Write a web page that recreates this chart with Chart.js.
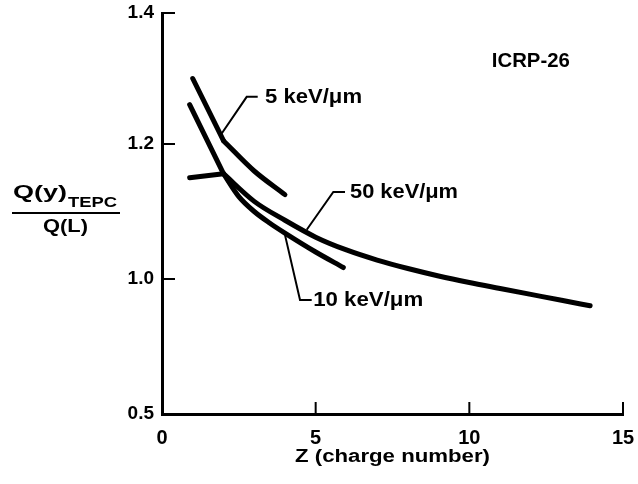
<!DOCTYPE html>
<html>
<head>
<meta charset="utf-8">
<script src="https://cdn.jsdelivr.net/npm/chart.js@4.4.1/dist/chart.umd.min.js"></script>
<style>
  html, body { margin: 0; padding: 0; background: #fff; }
</style>
</head>
<body>
<canvas id="graph" width="638" height="484"></canvas>
<script>
// values (Q(y)TEPC / Q(L) against Z)
const keV5Z = [1, 2, 3, 4];
const keV5Q = [1.30, 1.205, 1.16, 1.125];
const keV10Z = [0.9, 2, 2.5, 3, 3.5, 4, 5, 5.9];
const keV10Q = [1.26, 1.156, 1.122, 1.10, 1.083, 1.068, 1.04, 1.017];
const keV50Z = [0.9, 2, 3, 4, 5, 6, 7, 8, 9, 10, 11, 12, 13, 13.93];
const keV50Q = [1.15, 1.156, 1.115, 1.087, 1.062, 1.043, 1.028, 1.0155, 1.0045, 0.987, 0.965, 0.943, 0.921, 0.901];
const xTicks = [0, 5, 10, 15];
const yTicks = [0.5, 1.0, 1.2, 1.4];

// curve labels with their leader lines (data coordinates)
const leaderText = ['5 keV/μm', '50 keV/μm', '10 keV/μm'];
const leaderTipZ = [1.943, 4.709, 4.003];
const leaderTipQ = [1.216, 1.073, 1.065];
const leaderElbowZ = [2.756, 5.574, 4.491];
const leaderElbowQ = [1.272, 1.129, 0.922];
const leaderEndZ = [3.114, 5.955, 4.871];
const leaderLabelZ = [3.352, 6.118, 4.92];

// the y axis of the original is not uniform: 0.5 -> 1.0 takes the same room as 1.0 -> 1.2
const Y_FRACS = [0, 0.3367, 0.6733, 1];

class BrokenScale extends Chart.LinearScale {
  static id = 'broken';
  toDecimal(v) {
    for (let i = 1; i < yTicks.length; i++) {
      if (v <= yTicks[i] || i === yTicks.length - 1) {
        const a = yTicks[i - 1], b = yTicks[i];
        return Y_FRACS[i - 1] + (v - a) / (b - a) * (Y_FRACS[i] - Y_FRACS[i - 1]);
      }
    }
  }
  getPixelForValue(v) {
    return this.getPixelForDecimal(this.toDecimal(v));
  }
  getValueForPixel(p) {
    const d = this.getDecimalForPixel(p);
    for (let i = 1; i < Y_FRACS.length; i++) {
      if (d <= Y_FRACS[i] || i === Y_FRACS.length - 1) {
        const a = Y_FRACS[i - 1], b = Y_FRACS[i];
        return yTicks[i - 1] + (d - a) / (b - a) * (yTicks[i] - yTicks[i - 1]);
      }
    }
  }
}
Chart.register(BrokenScale);

const FONT = '"Liberation Sans", Arial, Helvetica, sans-serif';

function toPoints(zs, qs) {
  return zs.map((z, i) => ({ x: z, y: qs[i] }));
}

function fitText(ctx, str, x, y, size, width, align) {
  ctx.font = 'bold ' + size + 'px ' + FONT;
  const w = ctx.measureText(str).width;
  const sx = width ? width / w : 1;
  ctx.save();
  ctx.translate(x, y);
  ctx.scale(sx, 1);
  ctx.textAlign = align || 'left';
  ctx.textBaseline = 'middle';
  ctx.fillStyle = '#000';
  ctx.fillText(str, 0, 0);
  ctx.restore();
}

function seg(ctx, pts) {
  ctx.beginPath();
  ctx.moveTo(pts[0][0], pts[0][1]);
  for (let i = 1; i < pts.length; i++) ctx.lineTo(pts[i][0], pts[i][1]);
  ctx.stroke();
}

const decor = {
  id: 'decor',
  afterDraw(chart) {
    const ctx = chart.ctx;
    const xs = chart.scales.x;
    const ys = chart.scales.y;
    const area = chart.chartArea;
    ctx.save();
    ctx.strokeStyle = '#000';
    ctx.lineWidth = 2;

    // tick marks point into the plot
    ys.ticks.forEach(t => {
      if (t.value === yTicks[0]) return;
      const py = ys.getPixelForValue(t.value);
      seg(ctx, [[area.left, py], [area.left + 13, py]]);
    });
    xs.ticks.forEach(t => {
      if (t.value === xTicks[0]) return;
      const px = xs.getPixelForValue(t.value);
      seg(ctx, [[px, area.bottom], [px, area.bottom - 12]]);
    });

    // leader lines and curve labels
    const widths = [97, 108, 110];
    for (let i = 0; i < leaderText.length; i++) {
      const ey = ys.getPixelForValue(leaderElbowQ[i]);
      seg(ctx, [
        [xs.getPixelForValue(leaderTipZ[i]), ys.getPixelForValue(leaderTipQ[i])],
        [xs.getPixelForValue(leaderElbowZ[i]), ey],
        [xs.getPixelForValue(leaderEndZ[i]), ey]
      ]);
      fitText(ctx, leaderText[i], xs.getPixelForValue(leaderLabelZ[i]), ey, 21, widths[i], 'left');
    }

    fitText(ctx, 'ICRP-26', xs.getPixelForValue(12.0), ys.getPixelForValue(1.326), 20, 78, 'center');

    // x axis title
    fitText(ctx, 'Z (charge number)', (area.left + area.right) / 2, 457, 18, 195, 'center');

    // y axis title as a fraction
    fitText(ctx, 'Q(y)', 13, 193, 19, 54, 'left');
    fitText(ctx, 'TEPC', 68, 203, 15, 49, 'left');
    ctx.lineWidth = 2;
    seg(ctx, [[12, 213], [120, 213]]);
    fitText(ctx, 'Q(L)', 43, 227, 19, 45, 'left');
    ctx.restore();
  }
};

const lineStyle = {
  borderColor: '#000',
  borderWidth: 5,
  pointRadius: 0,
  fill: false,
  borderCapStyle: 'round',
  borderJoinStyle: 'round'
};

// each curve: a straight piece up to the bend at Z = 2, then a smooth piece
function curve(name, zs, qs) {
  return [
    Object.assign({ label: name, data: toPoints(zs.slice(0, 2), qs.slice(0, 2)), tension: 0 }, lineStyle),
    Object.assign({ label: name, data: toPoints(zs.slice(1), qs.slice(1)), cubicInterpolationMode: 'monotone' }, lineStyle)
  ];
}

const graph = document.getElementById('graph');
const myChart = new Chart(graph, {
  type: 'line',
  data: {
    datasets: [].concat(
      curve('5 keV/μm', keV5Z, keV5Q),
      curve('10 keV/μm', keV10Z, keV10Q),
      curve('50 keV/μm', keV50Z, keV50Q)
    )
  },
  options: {
    responsive: false,
    animation: false,
    devicePixelRatio: 1,
    layout: { padding: { top: 13, right: 15, left: 0, bottom: 0 } },
    plugins: { legend: { display: false }, tooltip: { enabled: false } },
    scales: {
      x: {
        type: 'linear',
        min: 0,
        max: 15,
        afterBuildTicks: s => { s.ticks = xTicks.map(v => ({ value: v })); },
        afterFit: s => { s.height = 70; s.paddingLeft = 0; s.paddingRight = 0; },
        grid: { display: false, drawTicks: false },
        border: { display: true, color: '#000', width: 3 },
        ticks: {
          color: '#000',
          padding: 12,
          font: { family: FONT, size: 20, weight: 'bold' },
          callback: v => String(v)
        }
      },
      y: {
        type: 'broken',
        min: 0.5,
        max: 1.4,
        afterBuildTicks: s => { s.ticks = yTicks.map(v => ({ value: v })); },
        afterFit: s => { s.width = 162; s.paddingTop = 0; s.paddingBottom = 0; },
        grid: { display: false, drawTicks: false },
        border: { display: true, color: '#000', width: 3 },
        ticks: {
          color: '#000',
          padding: 8,
          font: { family: FONT, size: 19, weight: 'bold' },
          callback: v => v.toFixed(1)
        }
      }
    }
  },
  plugins: [decor]
});
</script>
</body>
</html>
